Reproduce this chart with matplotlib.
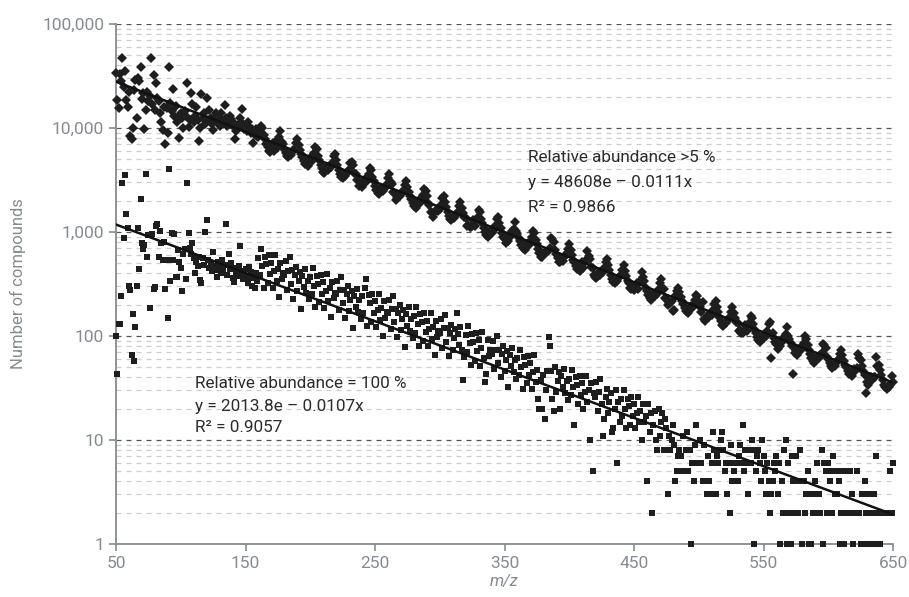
import matplotlib.pyplot as plt
import numpy as np
from matplotlib.ticker import FuncFormatter, LogLocator, NullFormatter

plt.rcParams['font.family'] = ['Roboto', 'DejaVu Sans']

# m/z axis, one count per nominal mass
mz = np.arange(50, 651)

# relative abundance > 5 %
abund5 = [
    34000, 18500, 15500, 33000, 28000, 47000, 25000, 35000, 18500, 16000,
    22000, 8300, 7900, 10100, 23000, 29000, 12400, 30500, 28000, 39000,
    19000, 21500, 9700, 14800, 22000, 18000, 20500, 47000, 17000, 32000,
    15000, 27000, 19500, 18000, 14000, 11400, 9500, 16000, 7000, 15500,
    8900, 39000, 17500, 14500, 23500, 13000, 16300, 11500, 12800, 8000,
    13800, 12600, 10100, 14500, 13000, 27300, 10200, 12000, 21600, 17000,
    11500, 13000, 16000, 12000, 7500, 10100, 21000, 12500, 14000, 11000,
    19500, 12000, 14900, 12500, 11000, 9500, 12500, 13800, 11500, 12800,
    10500, 14000, 12000, 11000, 16700, 12500, 10500, 11800, 13000, 12300,
    10400, 11200, 7800, 9300, 10100, 11000, 12500, 15300, 11000, 9800,
    10200, 9300, 11400, 10200, 9000, 9800, 7200, 8600, 9800, 8400,
    8230, 9140, 10450, 9960, 8640, 7820, 7080, 6500, 6010, 5840,
    6250, 7100, 6000, 6750, 6400, 7900, 8200, 9300, 7300, 7050,
    6350, 5780, 5360, 5220, 5640, 5500, 5850, 6200, 6330, 7120,
    7840, 6930, 6150, 5610, 5310, 4820, 4520, 4700, 4340, 4820,
    5130, 4820, 5165, 5730, 6560, 6250, 5420, 4910, 4440, 4080,
    3770, 3670, 3930, 4180, 3980, 4240, 4200, 4640, 5390, 5660,
    4950, 4420, 3980, 3620, 3360, 3270, 3540, 3450, 3670, 3890,
    3970, 4600, 4700, 4450, 3700, 3620, 3150, 3130, 2740, 3050,
    2720, 3030, 3220, 3030, 3240, 3590, 4110, 3920, 3400, 3080,
    2780, 2560, 2360, 2300, 2460, 2620, 2490, 2660, 2630, 2910,
    3300, 3650, 3000, 2870, 2400, 2350, 2040, 2120, 2150, 2230,
    2300, 2440, 2490, 2800, 3080, 2730, 2420, 2210, 2090, 1900,
    1780, 1850, 1710, 1900, 2020, 1900, 2030, 2250, 2580, 2460,
    2230, 1880, 1800, 1540, 1520, 1380, 1600, 1580, 1620, 1600,
    1650, 1820, 2120, 2220, 1950, 1740, 1560, 1430, 1320, 1290,
    1390, 1360, 1440, 1530, 1560, 1760, 1930, 1710, 1520, 1380,
    1350, 1150, 1160, 1120, 1110, 1150, 1300, 1150, 1310, 1370,
    1620, 1540, 1340, 1210, 1090, 1010, 930, 900, 970, 1030,
    980, 1040, 1040, 1150, 1330, 1400, 1220, 1090, 980, 890,
    860, 780, 900, 820, 950, 920, 1030, 1060, 1250, 1020,
    950, 870, 820, 750, 700, 730, 670, 750, 790, 750,
    800, 890, 1020, 970, 840, 760, 690, 630, 580, 570,
    630, 630, 640, 640, 670, 700, 870, 850, 800, 670,
    620, 560, 520, 510, 550, 530, 570, 600, 620, 690,
    760, 670, 600, 540, 520, 470, 440, 460, 420, 470,
    520, 450, 520, 540, 660, 590, 550, 460, 450, 390,
    370, 360, 380, 410, 390, 410, 410, 450, 520, 550,
    480, 430, 390, 350, 330, 320, 340, 340, 360, 380,
    390, 430, 480, 420, 380, 340, 320, 290, 280, 290,
    275, 280, 320, 280, 330, 340, 410, 370, 340, 290,
    270, 250, 230, 220, 240, 255, 240, 260, 255, 280,
    320, 355, 290, 280, 232, 228, 198, 207, 208, 217,
    175, 178, 240, 270, 290, 265, 235, 215, 205, 185,
    175, 180, 165, 185, 195, 185, 198, 220, 250, 240,
    210, 190, 170, 214, 145, 140, 150, 160, 152, 162,
    160, 178, 205, 215, 190, 170, 152, 138, 128, 125,
    135, 132, 140, 148, 152, 170, 188, 167, 148, 135,
    132, 112, 114, 108, 108, 112, 128, 112, 128, 134,
    157, 150, 130, 118, 107, 98, 91, 88, 94, 100,
    95, 102, 101, 111, 129, 136, 62, 106, 95, 87,
    84, 75, 88, 80, 91, 90, 98, 104, 122, 101,
    93, 85, 80, 43, 68, 71, 66, 73, 77, 73,
    78, 86, 99, 94, 82, 74, 67, 61, 57, 55,
    61, 60, 63, 61, 66, 68, 84, 82, 77, 63,
    60, 55, 51, 49, 53, 52, 55, 58, 60, 67,
    74, 66, 58, 53, 50, 46, 43, 44, 41, 46,
    48, 46, 49, 67, 62, 59, 51, 46, 42, 28,
    36, 34, 37, 40, 38, 40, 40, 63, 51, 53,
    47, 42, 38, 34, 32, 31, 33, 32, 34, 41,
    36,
]

# relative abundance = 100 %
abund100 = [
    101, 43, 130, 130, 242, 2940, 870, 3530, 1490, 1085,
    302, 275, 66, 163, 57, 121, 300, 1085, 440, 2060,
    790, 680, 750, 3600, 570, 935, 187, 945, 960, 281,
    295, 1150, 1200, 570, 1030, 790, 535, 800, 285, 540,
    148, 4000, 340, 980, 540, 960, 367, 370, 670, 520,
    448, 273, 610, 690, 350, 2940, 985, 700, 610, 778,
    560, 400, 520, 470, 580, 345, 321, 560, 480, 1000,
    1300, 540, 450, 500, 420, 640, 470, 430, 370, 520,
    460, 400, 540, 430, 480, 1190, 390, 620, 440, 500,
    360, 330, 450, 410, 380, 470, 735, 420, 350, 390,
    440, 370, 320, 460, 410, 300, 360, 290, 400, 340,
    567, 388, 685, 467, 292, 580, 488, 323, 597, 392,
    506, 288, 419, 602, 336, 440, 235, 506, 353, 401,
    387, 521, 275, 426, 574, 317, 429, 229, 387, 461,
    268, 341, 415, 183, 377, 296, 440, 260, 341, 225,
    369, 253, 446, 304, 190, 378, 318, 210, 389, 256,
    329, 187, 273, 392, 219, 287, 153, 329, 230, 261,
    252, 339, 179, 277, 373, 206, 279, 149, 252, 300,
    174, 222, 270, 119, 245, 192, 286, 169, 222, 147,
    241, 165, 290, 350, 124, 246, 207, 137, 253, 167,
    215, 122, 178, 255, 142, 187, 100, 215, 150, 170,
    165, 222, 117, 182, 245, 135, 183, 98, 165, 197,
    114, 146, 177, 78, 161, 126, 188, 111, 146, 96,
    157, 108, 190, 129, 81, 161, 136, 90, 166, 109,
    140, 80, 116, 167, 93, 122, 65, 140, 98, 111,
    108, 145, 76, 119, 160, 88, 120, 64, 108, 128,
    74, 95, 116, 168, 105, 82, 123, 73, 38, 63,
    103, 70, 124, 85, 53, 105, 88, 58, 108, 71,
    92, 52, 76, 109, 61, 36, 43, 92, 64, 73,
    67, 90, 48, 74, 99, 55, 74, 40, 67, 80,
    46, 59, 72, 32, 65, 51, 76, 45, 59, 39,
    61, 42, 74, 50, 31, 63, 53, 35, 64, 42,
    55, 31, 45, 65, 36, 47, 25, 20, 38, 20,
    42, 16, 30, 46, 97, 80, 46, 25, 19, 50,
    29, 37, 45, 20, 41, 32, 48, 28, 37, 24,
    39, 27, 47, 32, 14, 40, 34, 22, 41, 27,
    35, 20, 29, 41, 23, 30, 10, 35, 5, 28,
    26, 36, 19, 29, 39, 22, 11, 16, 26, 31,
    18, 23, 28, 12, 13, 20, 30, 6, 23, 15,
    25, 17, 30, 20, 13, 25, 21, 14, 26, 17,
    22, 13, 18, 26, 15, 19, 10, 22, 15, 17,
    4, 22, 12, 18, 2, 14, 19, 10, 8, 20,
    11, 15, 18, 8, 16, 13, 3, 11, 8, 10,
    14, 9, 4, 5, 7, 8, 7, 5, 11, 5,
    8, 12, 5, 8, 1, 6, 4, 9, 14, 6,
    6, 10, 6, 4, 9, 4, 3, 7, 4, 3,
    6, 12, 8, 3, 7, 6, 8, 10, 12, 8,
    5, 6, 3, 6, 2, 9, 4, 5, 6, 4,
    4, 7, 9, 6, 14, 5, 8, 6, 3, 8,
    6, 10, 8, 1, 5, 7, 8, 6, 4, 10,
    7, 5, 3, 6, 4, 2, 3, 4, 6, 5,
    7, 3, 6, 1, 4, 2, 8, 10, 1, 6,
    2, 1, 7, 4, 2, 7, 4, 2, 8, 4,
    1, 4, 2, 3, 5, 1, 3, 1, 2, 3,
    4, 6, 2, 3, 2, 8, 1, 6, 5, 2,
    6, 4, 5, 2, 7, 3, 5, 3, 4, 1,
    2, 5, 1, 2, 5, 2, 2, 5, 3, 1,
    2, 2, 5, 2, 2, 1, 3, 1, 4, 2,
    3, 1, 2, 3, 1, 3, 2, 7, 1, 2,
    1, 2, 2, 2, 2, 2, 2, 2, 5, 2,
    6,
]

# exponential fits y = a * exp(b * x)
fit5 = (48608, -0.0111)
fit100 = (2013.8, -0.0107)

yticks = [1, 10, 100, 1000, 10000, 100000]
xticks = [50, 150, 250, 350, 450, 550, 650]

grey = '#868b93'
ink = '#1e1e1e'

fig = plt.figure(figsize=(9.09, 5.97), dpi=100)
ax = fig.add_axes([116 / 909, 53 / 597, 777 / 909, 520 / 597])

ax.set_yscale('log')
ax.set_xlim(50, 650)
ax.set_ylim(1, 100000)

# dashed horizontal grid, darker on decades
ax.yaxis.set_minor_locator(LogLocator(base=10, subs=np.arange(2, 10)))
ax.yaxis.set_minor_formatter(NullFormatter())
ax.grid(True, axis='y', which='major', ls=(0, (4, 4)), color='#555555', lw=0.9, zorder=0)
ax.grid(True, axis='y', which='minor', ls=(0, (4, 4)), color='#cdcdcd', lw=0.9, zorder=0)

ax.plot(mz, abund5, ls='none', marker='D', ms=5.2, color=ink, mew=0, clip_on=False, zorder=3)
ax.plot(mz, abund100, ls='none', marker='s', ms=5.0, color=ink, mew=0, clip_on=False, zorder=3)

xf = np.linspace(50, 650, 300)
ax.plot(xf, fit5[0] * np.exp(fit5[1] * xf), color='#111111', lw=1.8, zorder=4)
ax.plot(xf, fit100[0] * np.exp(fit100[1] * xf), color='#111111', lw=1.8, zorder=4)

ax.set_yticks(yticks)
ax.yaxis.set_major_formatter(FuncFormatter(lambda v, p: f"{v:,.0f}"))
ax.set_xticks(xticks)
ax.tick_params(axis='both', which='major', colors=grey, labelsize=12.5, length=5, width=1.2)
ax.tick_params(axis='y', which='minor', length=0)
ax.tick_params(axis='x', pad=4)

for side in ('top', 'right'):
    ax.spines[side].set_visible(False)
for side in ('left', 'bottom'):
    ax.spines[side].set_color(grey)
    ax.spines[side].set_linewidth(1.3)

ax.set_ylabel('Number of compounds', color=grey, fontsize=12, labelpad=12)
ax.set_xlabel('m/z', color=grey, fontsize=12, style='italic', labelpad=2)

txt = dict(color='#2b2b2b', fontsize=12.3, va='center', ha='left')
fig.text(528 / 909, 1 - 158 / 597, 'Relative abundance >5 %', **txt)
fig.text(528 / 909, 1 - 182 / 597, 'y = 48608e – 0.0111x', **txt)
fig.text(528 / 909, 1 - 207 / 597, 'R² = 0.9866', **txt)
fig.text(195 / 909, 1 - 383 / 597, 'Relative abundance = 100 %', **txt)
fig.text(195 / 909, 1 - 406 / 597, 'y = 2013.8e – 0.0107x', **txt)
fig.text(195 / 909, 1 - 428 / 597, 'R² = 0.9057', **txt)

fig.savefig('out.png', dpi=100)
